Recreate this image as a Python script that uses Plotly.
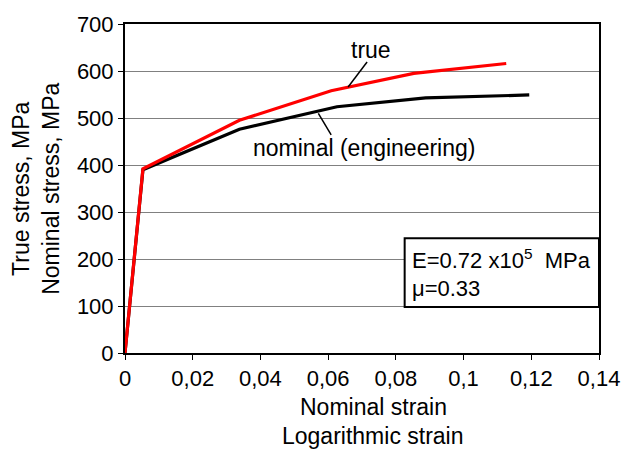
import plotly.graph_objects as go

# Data
nominal_strain = [0.0, 0.0053, 0.0338, 0.0626, 0.0888, 0.1194]
nominal_stress = [0, 390, 476, 524, 543, 549]
true_strain = [0.0, 0.0053, 0.0338, 0.0609, 0.0853, 0.1126]
true_stress = [0, 392, 495, 558, 595, 616]

x_ticks = [0, 0.02, 0.04, 0.06, 0.08, 0.1, 0.12, 0.14]
x_tick_labels = ["0", "0,02", "0,04", "0,06", "0,08", "0,1", "0,12", "0,14"]
y_ticks = [0, 100, 200, 300, 400, 500, 600, 700]

FONT = "Liberation Sans, Arial, sans-serif"
TXT = 23

fig = go.Figure()
fig.add_trace(go.Scatter(x=nominal_strain, y=nominal_stress, mode="lines",
                         line=dict(color="black", width=3.2), showlegend=False))
fig.add_trace(go.Scatter(x=true_strain, y=true_stress, mode="lines",
                         line=dict(color="#ff0000", width=3.2), showlegend=False))

# leader lines
fig.add_shape(type="line", x0=0.0715, y0=619, x1=0.0659, y1=566,
              line=dict(color="black", width=1.5))
fig.add_shape(type="line", x0=0.0571, y0=510, x1=0.0609, y1=464,
              line=dict(color="black", width=1.5))

fig.add_annotation(x=0.0726, y=644, text="true", showarrow=False,
                   font=dict(family=FONT, size=TXT, color="black"),
                   xanchor="center", yanchor="middle")
fig.add_annotation(x=0.0372, y=436, text="nominal (engineering)", showarrow=False,
                   font=dict(family=FONT, size=TXT, color="black"),
                   xanchor="left", yanchor="middle")

# parameter box
fig.add_shape(type="rect", x0=0.0826, y0=98, x1=0.14, y1=244,
              line=dict(color="black", width=2), fillcolor="white", layer="above")
fig.add_annotation(x=0.0842, y=200, text="E=0.72 x10<sup>5</sup>  MPa", showarrow=False,
                   font=dict(family=FONT, size=22, color="black"),
                   xanchor="left", yanchor="middle")
fig.add_annotation(x=0.0842, y=137, text="μ=0.33", showarrow=False,
                   font=dict(family=FONT, size=22, color="black"),
                   xanchor="left", yanchor="middle")

# axis titles
fig.add_annotation(x=-0.2206, y=0.5, xref="paper", yref="paper", text="True stress, MPa",
                   textangle=-90, showarrow=False, xanchor="center", yanchor="middle",
                   font=dict(family=FONT, size=TXT, color="black"))
fig.add_annotation(x=-0.1576, y=0.5, xref="paper", yref="paper", text="Nominal stress, MPa",
                   textangle=-90, showarrow=False, xanchor="center", yanchor="middle",
                   font=dict(family=FONT, size=TXT, color="black"))
fig.add_annotation(x=0.5235, y=-0.165, xref="paper", yref="paper", text="Nominal strain",
                   showarrow=False, xanchor="center", yanchor="middle",
                   font=dict(family=FONT, size=TXT, color="black"))
fig.add_annotation(x=0.5235, y=-0.252, xref="paper", yref="paper", text="Logarithmic strain",
                   showarrow=False, xanchor="center", yanchor="middle",
                   font=dict(family=FONT, size=TXT, color="black"))

fig.update_xaxes(range=[0, 0.14], tickvals=x_ticks, ticktext=x_tick_labels,
                 showgrid=False, zeroline=False, showline=True, linecolor="black",
                 linewidth=2, mirror=True, ticks="outside", ticklen=5, tickcolor="black",
                 tickfont=dict(family=FONT, size=22, color="black"))
fig.update_yaxes(range=[0, 700], tickvals=y_ticks, showgrid=True, gridcolor="#808080",
                 gridwidth=1, zeroline=False, showline=True, linecolor="black",
                 linewidth=2, mirror=True, ticks="outside", ticklen=5, tickcolor="black",
                 tickfont=dict(family=FONT, size=22, color="black"))

fig.update_layout(width=632, height=451, margin=dict(l=125, r=31, t=17, b=98),
                  plot_bgcolor="white", paper_bgcolor="white")

fig.write_html("out.html")
